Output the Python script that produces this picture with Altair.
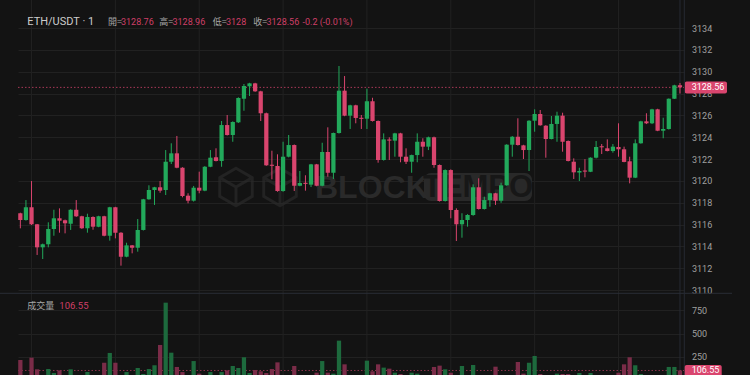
import altair as alt
import pandas as pd

# ---------------- data ----------------
opens = [3117.03, 3116.41, 3117.58, 3116.02, 3113.91, 3114.19, 3115.59, 3116.57, 3116.39, 3116.07,
         3117.35, 3116.75, 3115.65, 3116.69, 3115.80, 3116.75, 3114.97, 3117.58, 3115.25, 3113.05,
         3114.09, 3113.87, 3115.50, 3118.31, 3119.16, 3119.41, 3119.16, 3121.75, 3122.52, 3121.20,
         3118.64, 3118.18, 3119.37, 3119.10, 3121.29, 3122.16, 3121.82, 3125.11, 3124.20, 3125.36,
         3127.52, 3128.66, 3128.93, 3128.20, 3126.19, 3121.45, 3121.36, 3119.07, 3122.21, 3123.28,
         3119.55, 3119.79, 3119.65, 3121.51, 3119.55, 3122.64, 3120.74, 3124.38, 3128.26, 3125.97,
         3126.92, 3125.75, 3125.69, 3127.29, 3125.48, 3121.91, 3123.76, 3123.68, 3124.35, 3122.21,
         3121.75, 3122.36, 3123.58, 3123.13, 3123.99, 3121.45, 3118.15, 3120.99, 3117.33, 3116.02,
         3116.41, 3116.87, 3119.41, 3117.42, 3118.24, 3118.86, 3118.18, 3119.59, 3123.31, 3124.04,
         3123.25, 3122.82, 3125.51, 3126.12, 3125.05, 3123.83, 3125.21, 3125.97, 3123.65, 3121.75,
         3120.76, 3120.92, 3120.83, 3122.12, 3123.14, 3122.98, 3122.73, 3123.10, 3122.89, 3121.79,
         3120.29, 3123.44, 3125.45, 3125.27, 3126.55, 3124.59, 3124.75, 3127.52, 3128.76]
closes = [3116.41, 3117.58, 3116.02, 3113.91, 3114.19, 3115.59, 3116.57, 3116.35, 3116.11, 3117.35,
          3116.75, 3115.65, 3116.69, 3115.80, 3116.75, 3114.97, 3117.58, 3115.25, 3113.05, 3114.09,
          3113.87, 3115.50, 3118.31, 3119.16, 3119.41, 3119.10, 3121.75, 3122.52, 3121.20, 3118.61,
          3118.18, 3119.37, 3119.10, 3121.29, 3122.12, 3121.82, 3125.11, 3124.20, 3125.39, 3127.59,
          3128.69, 3128.93, 3128.20, 3126.19, 3121.42, 3121.40, 3119.07, 3122.21, 3123.28, 3119.55,
          3119.80, 3119.75, 3121.51, 3119.55, 3122.64, 3120.74, 3124.38, 3128.26, 3125.97, 3126.92,
          3125.76, 3125.70, 3127.29, 3125.48, 3121.91, 3123.80, 3123.71, 3124.35, 3122.21, 3121.75,
          3122.36, 3123.58, 3123.13, 3123.99, 3121.45, 3118.15, 3120.99, 3117.33, 3116.02, 3116.41,
          3116.87, 3119.41, 3117.42, 3118.24, 3118.86, 3118.18, 3119.59, 3123.31, 3124.04, 3123.28,
          3122.82, 3125.51, 3126.12, 3125.09, 3123.83, 3125.21, 3125.97, 3123.58, 3121.82, 3120.78,
          3120.90, 3120.87, 3122.12, 3123.10, 3123.10, 3122.73, 3123.13, 3122.89, 3121.73, 3120.29,
          3123.44, 3125.45, 3125.27, 3126.55, 3124.59, 3124.75, 3127.52, 3128.75, 3128.56]
highs = [3117.08, 3118.24, 3119.98, 3116.05, 3114.25, 3116.20, 3117.35, 3117.48, 3116.45, 3117.40,
         3118.24, 3116.80, 3116.99, 3116.75, 3116.80, 3116.80, 3117.62, 3117.62, 3115.30, 3114.33,
         3114.12, 3116.50, 3118.35, 3119.59, 3119.45, 3119.98, 3122.82, 3123.44, 3124.11, 3121.25,
         3118.86, 3119.53, 3120.84, 3121.35, 3122.82, 3122.98, 3125.48, 3126.03, 3125.45, 3127.65,
         3128.87, 3128.98, 3128.98, 3128.25, 3126.25, 3122.76, 3122.43, 3123.58, 3124.20, 3123.33,
         3120.90, 3120.51, 3121.55, 3121.55, 3123.49, 3124.90, 3124.42, 3130.52, 3129.60, 3126.97,
         3126.97, 3126.03, 3128.44, 3127.61, 3125.53, 3124.35, 3123.99, 3124.40, 3124.40, 3122.98,
         3122.40, 3124.35, 3123.90, 3124.05, 3124.05, 3121.50, 3121.05, 3121.05, 3117.48, 3117.03,
         3116.95, 3119.68, 3120.23, 3118.55, 3118.90, 3118.90, 3119.83, 3123.35, 3124.10, 3125.73,
         3123.30, 3125.55, 3126.55, 3126.49, 3125.10, 3125.94, 3126.33, 3126.24, 3123.70, 3122.06,
         3121.20, 3121.99, 3122.15, 3123.65, 3123.37, 3123.80, 3123.37, 3125.27, 3123.13, 3122.21,
         3123.80, 3125.50, 3126.19, 3126.60, 3126.60, 3125.78, 3127.55, 3128.80, 3128.96]
lows = [3115.65, 3116.35, 3115.95, 3113.21, 3112.84, 3113.91, 3114.97, 3115.25, 3115.19, 3115.50,
        3116.70, 3115.60, 3115.25, 3115.52, 3115.75, 3114.92, 3114.52, 3114.73, 3112.23, 3113.00,
        3113.36, 3113.51, 3115.45, 3118.27, 3117.79, 3118.91, 3118.70, 3121.54, 3121.15, 3118.49,
        3117.94, 3118.10, 3118.86, 3119.05, 3121.25, 3121.78, 3121.29, 3124.15, 3123.58, 3125.30,
        3126.42, 3127.77, 3128.15, 3125.48, 3121.38, 3120.14, 3119.00, 3119.00, 3122.15, 3119.07,
        3119.50, 3119.10, 3119.43, 3119.50, 3119.50, 3120.38, 3120.17, 3124.33, 3125.92, 3124.75,
        3125.27, 3124.75, 3124.75, 3125.43, 3121.66, 3121.85, 3121.91, 3122.21, 3121.70, 3121.54,
        3120.74, 3121.70, 3122.21, 3122.82, 3121.20, 3118.10, 3118.10, 3116.57, 3114.49, 3114.79,
        3115.80, 3116.80, 3117.37, 3117.37, 3117.63, 3117.79, 3117.99, 3119.55, 3122.21, 3123.23,
        3122.00, 3120.90, 3124.50, 3125.05, 3122.12, 3123.80, 3123.58, 3122.67, 3121.78, 3120.17,
        3119.98, 3120.32, 3120.80, 3122.05, 3122.46, 3122.70, 3122.58, 3122.21, 3121.70, 3119.77,
        3120.25, 3123.40, 3125.20, 3125.20, 3124.55, 3123.90, 3124.70, 3127.50, 3128.00]
volumes = [218, 45, 243, 119, 42, 122, 80, 108, 35, 119,
           40, 50, 90, 38, 45, 190, 293, 190, 52, 90,
           40, 133, 69, 122, 162, 378, 828, 296, 144, 90,
           48, 207, 73, 45, 90, 40, 90, 108, 154, 133,
           247, 80, 112, 98, 80, 122, 193, 50, 42, 154,
           35, 30, 52, 83, 207, 83, 73, 424, 172, 48,
           40, 35, 211, 98, 172, 137, 126, 83, 69, 45,
           83, 73, 40, 50, 144, 158, 119, 83, 48, 154,
           55, 165, 45, 40, 52, 147, 38, 50, 45, 197,
           73, 190, 261, 69, 42, 48, 73, 69, 69, 50,
           80, 35, 80, 45, 30, 40, 38, 83, 172, 247,
           162, 69, 45, 50, 52, 35, 144, 144, 106.55]

price_ticks = [3110, 3112, 3114, 3116, 3118, 3120, 3122, 3124, 3126, 3128, 3130, 3132, 3134]
volume_ticks = [250, 500, 750]
time_grid_idx = [2, 17, 32, 47, 62, 77, 92, 107]

symbol_label = "ETH/USDT · 1"
ohlc_names = ["開=", "高=", "低=", "收="]
volume_name = "成交量"
watermark_word = "BLOCK"
watermark_box_word = "TEMPO"

# ---------------- styling ----------------
GREEN = "#22a95b"
RED = "#d9456e"
VGREEN = "#1d6a3d"
VRED = "#7a2c48"
TXT_RED = "#cf3f67"
BG = "#131313"
GRID = "#212121"
W, H = 666, 375

n = len(opens)
df = pd.DataFrame({"i": list(range(n)), "o": opens, "h": highs, "l": lows,
                   "c": closes, "v": volumes})
mid = (df.o + df.c) / 2
half = ((df.o - df.c).abs() / 2).clip(lower=0.05)
df["top"] = mid + half
df["bot"] = mid - half
df["x0"] = df.i - 0.38
df["x1"] = df.i + 0.38
last = df.iloc[[-1]].reset_index(drop=True)
grid_df = pd.DataFrame({"i": time_grid_idx})

xsc = alt.Scale(domain=[-0.42, 118.72], nice=False, zero=False)
psc = alt.Scale(domain=[3102.214, 3136.565], nice=False, zero=False)
vsc = alt.Scale(domain=[58.5, 4048], nice=False, zero=False)

paxis = alt.Axis(orient="right", values=price_ticks, format="d", grid=True, title=None,
                 labelFlush=False, labelOverlap=False)
vaxis = alt.Axis(orient="right", values=volume_ticks, format="d", grid=True, title=None,
                 labelFlush=False, labelOverlap=False)

up = "datum.c >= datum.o"


def label(text, x, y, color, size, font="Roboto", align="left", weight="normal"):
    return alt.Chart(alt.Data(values=[{"t": text}])).mark_text(
        align=align, baseline="middle", fontSize=size, font=font, color=color,
        fontWeight=weight
    ).encode(text="t:N", x=alt.value(x), y=alt.value(y))


CJK = "Noto Sans CJK TC"

# ---------------- price panel ----------------
vgrid = alt.Chart(grid_df).mark_rule(color=GRID, strokeWidth=1).encode(
    x=alt.X("i:Q", scale=xsc, axis=None), y=alt.value(0), y2=alt.value(H))

cross = alt.Chart(last).mark_rule(color="#262a34", strokeWidth=1).encode(
    x=alt.X("i:Q", scale=xsc, axis=None), y=alt.value(0), y2=alt.value(H))

cube_path = ("M0,-1L0.87,-0.5L0.87,0.5L0,1L-0.87,0.5L-0.87,-0.5Z"
             "M-0.87,-0.5L0,0L0.87,-0.5M0,0L0,1")
wm_cube1 = alt.Chart(alt.Data(values=[{}])).mark_point(
    shape=cube_path, size=1400, filled=False, stroke="#2a2a2a", strokeWidth=3
).encode(x=alt.value(218), y=alt.value(187))
wm_cube2 = alt.Chart(alt.Data(values=[{}])).mark_point(
    shape=cube_path, size=1400, filled=False, stroke="#2a2a2a", strokeWidth=3
).encode(x=alt.value(262), y=alt.value(187))
wm_box = alt.Chart(alt.Data(values=[{}])).mark_rect(
    color="#292929", cornerRadius=7
).encode(x=alt.value(406), x2=alt.value(514), y=alt.value(173), y2=alt.value(201))
wm_block = label(watermark_word, 297, 188, "#2a2a2a", 32, font="Liberation Sans", weight="bold")
wm_tempo = label(watermark_box_word, 460, 188, "#171717", 31, font="Liberation Sans",
                 align="center", weight="bold")

pdot = alt.Chart(last).mark_rule(color=RED, strokeDash=[1.5, 2], opacity=0.75).encode(
    y=alt.Y("c:Q", scale=psc, axis=paxis), x=alt.value(0), x2=alt.value(W))

wicks = alt.Chart(df).mark_rule(strokeWidth=1).encode(
    x=alt.X("i:Q", scale=xsc, axis=None),
    y=alt.Y("l:Q", scale=psc, axis=paxis),
    y2="h:Q",
    color=alt.condition(up, alt.value(GREEN), alt.value(RED)))

bodies = alt.Chart(df).mark_rect().encode(
    x=alt.X("x0:Q", scale=xsc, axis=None), x2="x1:Q",
    y=alt.Y("bot:Q", scale=psc, axis=paxis), y2="top:Q",
    color=alt.condition(up, alt.value(GREEN), alt.value(RED)))

pbox = alt.Chart(last).mark_rect(color=RED, cornerRadius=2, yOffset=-6, y2Offset=6).encode(
    y=alt.Y("c:Q", scale=psc, axis=paxis), y2="c:Q",
    x=alt.value(666.7), x2=alt.value(709))
ptext = alt.Chart(last).mark_text(align="left", baseline="middle", fontSize=9,
                                  font="Roboto", color="#ffffff").encode(
    y=alt.Y("c:Q", scale=psc, axis=paxis), x=alt.value(673.7),
    text=alt.Text("c:Q", format=".2f"))

o_l, h_l, l_l, c_l = opens[-1], highs[-1], lows[-1], closes[-1]
chg = c_l - o_l
pct = chg / o_l * 100
hdr_y = 21.5
header = [
    label(symbol_label, 9.3, hdr_y, "#cccccc", 11),
    label(ohlc_names[0], 90, hdr_y, "#a6a6a6", 9, font=CJK),
    label(f"{o_l:g}", 103, hdr_y, TXT_RED, 9),
    label(ohlc_names[1], 141.3, hdr_y, "#a6a6a6", 9, font=CJK),
    label(f"{h_l:g}", 154.5, hdr_y, TXT_RED, 9),
    label(ohlc_names[2], 194.7, hdr_y, "#a6a6a6", 9, font=CJK),
    label(f"{l_l:g}", 208, hdr_y, TXT_RED, 9),
    label(ohlc_names[3], 235.3, hdr_y, "#a6a6a6", 9, font=CJK),
    label(f"{c_l:g}", 248.5, hdr_y, TXT_RED, 9),
    label(f"{chg:.1f} ({pct:.2f}%)", 284.5, hdr_y, TXT_RED, 9),
]

price = alt.layer(vgrid, cross, wm_cube1, wm_cube2, wm_box, wm_block, wm_tempo,
                  pdot, wicks, bodies, pbox, ptext, *header)

# ---------------- volume panel ----------------
sep_h = alt.Chart(alt.Data(values=[{}])).mark_rule(color="#2a2e36", strokeWidth=1).encode(
    x=alt.value(-18), x2=alt.value(714), y=alt.value(293.3))
sep_v = alt.Chart(alt.Data(values=[{}])).mark_rule(color="#262a33", strokeWidth=1).encode(
    x=alt.value(666.3), y=alt.value(0), y2=alt.value(H))

vdot = alt.Chart(last).mark_rule(color=RED, strokeDash=[1.5, 2], opacity=0.6).encode(
    y=alt.Y("v:Q", scale=vsc, axis=vaxis), x=alt.value(0), x2=alt.value(W))

vbars = alt.Chart(df).mark_rect().encode(
    x=alt.X("x0:Q", scale=xsc, axis=None), x2="x1:Q",
    y=alt.Y("v:Q", scale=vsc, axis=vaxis), y2=alt.datum(0),
    color=alt.condition(up, alt.value(VGREEN), alt.value(VRED)))

vbox = alt.Chart(last).mark_rect(color=RED, cornerRadius=2, yOffset=-5.5, y2Offset=6).encode(
    y=alt.Y("v:Q", scale=vsc, axis=vaxis), y2="v:Q",
    x=alt.value(666.7), x2=alt.value(703.7))
vtext = alt.Chart(last).mark_text(align="left", baseline="middle", fontSize=9,
                                  font="Roboto", color="#ffffff").encode(
    y=alt.Y("v:Q", scale=vsc, axis=vaxis), x=alt.value(673.7),
    text=alt.Text("v:Q", format=".2f"))

vol_labels = [
    label(volume_name, 9.3, 306, "#a6a6a6", 9, font=CJK),
    label(f"{volumes[-1]:.2f}", 41.3, 306, TXT_RED, 9.5),
]

volume = alt.layer(sep_h, sep_v, vdot, vbars, vbox, vtext, *vol_labels)

chart = alt.layer(price, volume).resolve_scale(y="independent").properties(
    width=W, height=H, autosize="none",
    padding={"left": 18, "top": 0, "right": 66, "bottom": 0},
    background=BG,
).configure_view(stroke=None).configure_axis(
    labelFont="Roboto", labelFontSize=9, labelColor="#a0a0a0",
    gridColor=GRID, gridWidth=1, ticks=False, domain=False, labelPadding=7.5,
)

chart.save("out.html", embed_options={"renderer": "svg", "actions": False})
